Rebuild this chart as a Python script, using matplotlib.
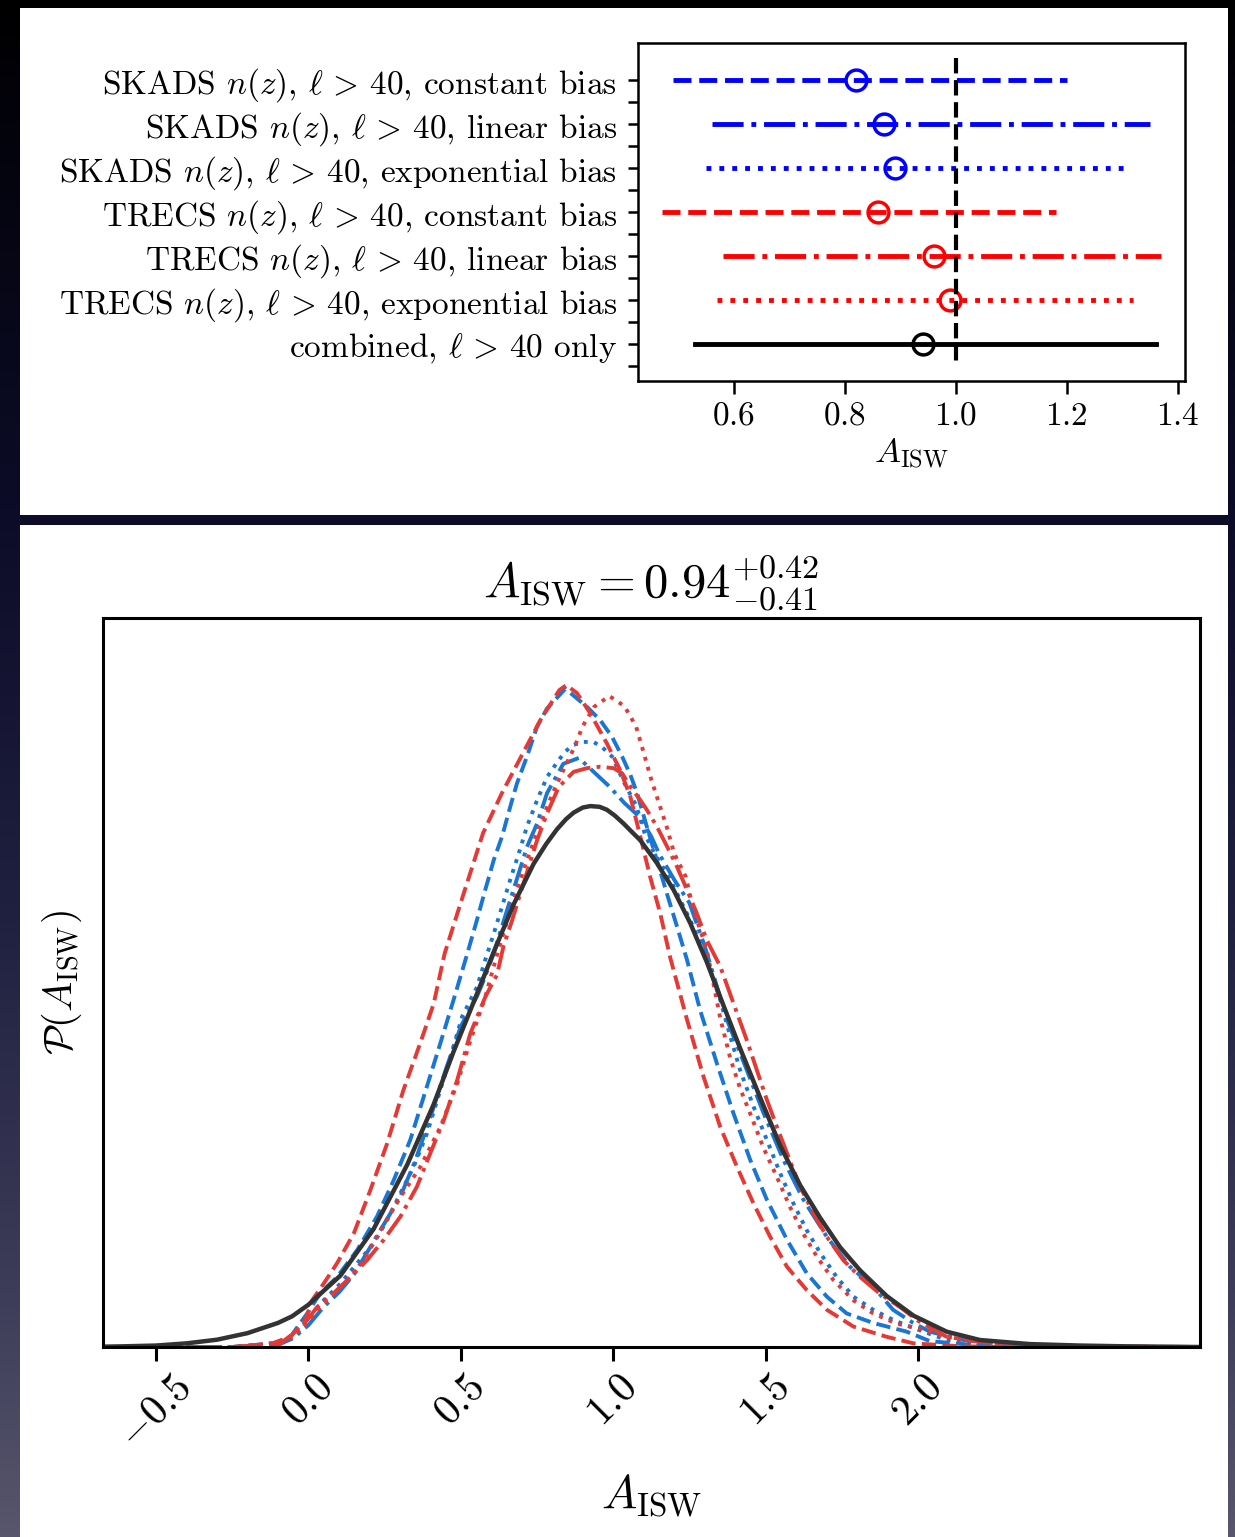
import numpy as np
import matplotlib
matplotlib.use("Agg")
import matplotlib.pyplot as plt
from matplotlib.patches import Rectangle

plt.rcParams['font.family'] = 'serif'
plt.rcParams['font.serif'] = ['cmr10']
plt.rcParams['mathtext.fontset'] = 'cm'
plt.rcParams['axes.formatter.use_mathtext'] = True
plt.rcParams['axes.unicode_minus'] = True

# ---------------- top panel data ----------------
row_labels = [
    r'SKADS $n(z)$, $\ell \,>\, 40$, constant bias',
    r'SKADS $n(z)$, $\ell \,>\, 40$, linear bias',
    r'SKADS $n(z)$, $\ell \,>\, 40$, exponential bias',
    r'TRECS $n(z)$, $\ell \,>\, 40$, constant bias',
    r'TRECS $n(z)$, $\ell \,>\, 40$, linear bias',
    r'TRECS $n(z)$, $\ell \,>\, 40$, exponential bias',
    r'combined, $\ell \,>\, 40$ only',
]
centers = [0.82, 0.87, 0.89, 0.86, 0.96, 0.99, 0.94]
lows = [0.49, 0.56, 0.55, 0.47, 0.58, 0.57, 0.53]
highs = [1.20, 1.35, 1.31, 1.18, 1.37, 1.32, 1.36]
row_colors = ['#0000ff', '#0000ff', '#0000ff', '#ff0000', '#ff0000', '#ff0000', '#000000']
row_styles = ['--', '-.', ':', '--', '-.', ':', '-']
top_xticks = [0.6, 0.8, 1.0, 1.2, 1.4]

# ---------------- bottom panel data ----------------
black_x = [-0.67, -0.6, -0.5, -0.4, -0.3, -0.2, -0.1, -0.054, 0.0, 0.105, 0.214, 0.324, 0.411,
           0.476, 0.537, 0.608, 0.673, 0.739, 0.780, 0.815, 0.845, 0.870, 0.900, 0.925, 0.955,
           0.979, 1.005, 1.034, 1.060, 1.089, 1.143, 1.198, 1.252, 1.307, 1.351, 1.416, 1.482,
           1.548, 1.613, 1.679, 1.744, 1.810, 1.897, 1.985, 2.094, 2.203, 2.367, 2.531, 2.7, 2.92]
black_y = [0.0005, 0.001, 0.002, 0.005, 0.010, 0.019, 0.033, 0.042, 0.058, 0.098, 0.162, 0.250,
           0.333, 0.405, 0.468, 0.542, 0.607, 0.663, 0.690, 0.710, 0.724, 0.733, 0.740, 0.742,
           0.741, 0.737, 0.729, 0.718, 0.707, 0.695, 0.664, 0.627, 0.582, 0.528, 0.480, 0.410,
           0.342, 0.276, 0.222, 0.177, 0.137, 0.105, 0.070, 0.043, 0.021, 0.0096, 0.004, 0.002,
           0.0008, 0.0]

sk_const_x = [-0.67, -0.25, -0.114, -0.059, -0.004, 0.039, 0.094, 0.160, 0.225, 0.280, 0.334,
              0.378, 0.433, 0.476, 0.520, 0.553, 0.580, 0.608, 0.635, 0.662, 0.684, 0.717, 0.750,
              0.783, 0.843, 0.914, 0.957, 0.996, 1.029, 1.056, 1.078, 1.110, 1.143, 1.176, 1.209,
              1.242, 1.285, 1.340, 1.394, 1.449, 1.504, 1.570, 1.635, 1.701, 1.766, 1.853, 1.963,
              2.039, 2.203, 2.4, 2.92]
sk_const_y = [0.0, 0.0, 0.005, 0.014, 0.046, 0.074, 0.096, 0.133, 0.179, 0.229, 0.284, 0.343,
              0.417, 0.476, 0.538, 0.586, 0.627, 0.668, 0.700, 0.741, 0.773, 0.810, 0.851, 0.876,
              0.903, 0.878, 0.860, 0.837, 0.810, 0.785, 0.760, 0.714, 0.668, 0.622, 0.577, 0.531,
              0.462, 0.389, 0.321, 0.257, 0.202, 0.147, 0.101, 0.069, 0.046, 0.033, 0.021, 0.008,
              0.002, 0.0, 0.0]

sk_lin_x = [-0.67, -0.25, -0.1, -0.05, 0.0, 0.05, 0.1, 0.15, 0.2, 0.25, 0.3, 0.35, 0.4, 0.45,
            0.5, 0.553, 0.575, 0.608, 0.635, 0.662, 0.690, 0.717, 0.750, 0.783, 0.836, 0.887,
            0.987, 1.037, 1.087, 1.125, 1.150, 1.200, 1.250, 1.300, 1.373, 1.438, 1.493, 1.558,
            1.624, 1.701, 1.777, 1.853, 1.918, 1.984, 2.039, 2.148, 2.311, 2.5, 2.92]
sk_lin_y = [0.0, 0.0, 0.003, 0.012, 0.030, 0.055, 0.075, 0.100, 0.135, 0.170, 0.205, 0.255,
            0.315, 0.380, 0.440, 0.481, 0.503, 0.540, 0.577, 0.613, 0.650, 0.686, 0.718, 0.760,
            0.800, 0.808, 0.769, 0.746, 0.727, 0.700, 0.677, 0.641, 0.609, 0.550, 0.449, 0.380,
            0.321, 0.257, 0.202, 0.151, 0.110, 0.083, 0.051, 0.033, 0.021, 0.0096, 0.004, 0.001,
            0.0]

sk_exp_x = [-0.67, -0.25, -0.092, -0.037, 0.007, 0.050, 0.105, 0.160, 0.214, 0.258, 0.302,
            0.345, 0.389, 0.433, 0.466, 0.504, 0.553, 0.580, 0.608, 0.635, 0.662, 0.690, 0.717,
            0.750, 0.783, 0.821, 0.843, 0.870, 0.903, 0.935, 0.963, 0.996, 1.037, 1.075, 1.105,
            1.138, 1.187, 1.220, 1.252, 1.285, 1.318, 1.351, 1.384, 1.416, 1.460, 1.504, 1.548,
            1.591, 1.635, 1.679, 1.733, 1.788, 1.853, 1.919, 1.985, 2.094, 2.203, 2.367, 2.6, 2.92]
sk_exp_y = [0.0, 0.0, 0.005, 0.019, 0.042, 0.064, 0.087, 0.115, 0.142, 0.174, 0.211, 0.247,
            0.293, 0.353, 0.398, 0.453, 0.494, 0.531, 0.567, 0.604, 0.641, 0.677, 0.714, 0.750,
            0.782, 0.805, 0.817, 0.826, 0.830, 0.830, 0.823, 0.810, 0.773, 0.743, 0.702, 0.675,
            0.641, 0.613, 0.586, 0.554, 0.517, 0.476, 0.426, 0.380, 0.330, 0.284, 0.238, 0.197,
            0.160, 0.129, 0.096, 0.069, 0.051, 0.037, 0.026, 0.0096, 0.004, 0.002, 0.0, 0.0]

tr_const_x = [-0.67, -0.25, -0.223, -0.115, -0.059, -0.010, 0.012, 0.050, 0.094, 0.149, 0.203,
              0.258, 0.312, 0.367, 0.411, 0.447, 0.510, 0.573, 0.635, 0.698, 0.761, 0.823, 0.846,
              0.881, 0.925, 0.979, 1.023, 1.056, 1.089, 1.121, 1.154, 1.187, 1.242, 1.296, 1.351,
              1.406, 1.460, 1.515, 1.570, 1.635, 1.701, 1.788, 1.897, 1.985, 2.138, 2.3, 2.92]
tr_const_y = [0.0, 0.0, 0.0004, 0.0055, 0.014, 0.037, 0.064, 0.087, 0.115, 0.156, 0.215, 0.279,
              0.353, 0.417, 0.471, 0.540, 0.623, 0.705, 0.760, 0.810, 0.860, 0.901, 0.908, 0.897,
              0.869, 0.828, 0.791, 0.755, 0.700, 0.645, 0.595, 0.534, 0.449, 0.371, 0.302, 0.247,
              0.197, 0.151, 0.110, 0.078, 0.051, 0.028, 0.014, 0.005, 0.001, 0.0, 0.0]

tr_lin_x = [-0.67, -0.25, -0.092, -0.048, -0.004, 0.029, 0.083, 0.138, 0.192, 0.247, 0.302,
            0.356, 0.400, 0.444, 0.488, 0.531, 0.580, 0.619, 0.640, 0.668, 0.695, 0.722, 0.750,
            0.783, 0.821, 0.870, 0.914, 0.957, 1.001, 1.029, 1.056, 1.089, 1.110, 1.143, 1.176,
            1.209, 1.242, 1.274, 1.307, 1.351, 1.394, 1.438, 1.471, 1.504, 1.537, 1.570, 1.613,
            1.657, 1.701, 1.755, 1.810, 1.875, 1.940, 2.0, 2.094, 2.203, 2.311, 2.5, 2.92]
tr_lin_y = [0.0, 0.0, 0.005, 0.019, 0.037, 0.055, 0.074, 0.096, 0.119, 0.147, 0.179, 0.220,
            0.266, 0.311, 0.366, 0.430, 0.480, 0.511, 0.550, 0.585, 0.622, 0.658, 0.695, 0.732,
            0.768, 0.789, 0.794, 0.796, 0.794, 0.787, 0.769, 0.750, 0.737, 0.714, 0.687, 0.659,
            0.627, 0.595, 0.558, 0.522, 0.472, 0.421, 0.380, 0.339, 0.302, 0.266, 0.220, 0.183,
            0.151, 0.119, 0.096, 0.073, 0.055, 0.036, 0.014, 0.007, 0.004, 0.001, 0.0]

tr_exp_x = [-0.67, -0.25, -0.1, -0.059, -0.015, 0.029, 0.072, 0.127, 0.181, 0.236, 0.302,
            0.367, 0.433, 0.488, 0.531, 0.580, 0.608, 0.630, 0.657, 0.684, 0.717, 0.750, 0.783,
            0.811, 0.836, 0.874, 0.899, 0.937, 0.987, 1.037, 1.075, 1.100, 1.125, 1.150, 1.175,
            1.200, 1.238, 1.263, 1.307, 1.351, 1.384, 1.416, 1.455, 1.493, 1.537, 1.580, 1.624,
            1.668, 1.722, 1.788, 1.853, 1.930, 2.007, 2.094, 2.203, 2.367, 2.6, 2.92]
tr_exp_y = [0.0, 0.0, 0.003, 0.012, 0.028, 0.051, 0.069, 0.092, 0.119, 0.160, 0.206, 0.247,
            0.302, 0.361, 0.420, 0.480, 0.522, 0.554, 0.591, 0.627, 0.668, 0.705, 0.741, 0.769,
            0.791, 0.824, 0.851, 0.878, 0.893, 0.879, 0.851, 0.815, 0.778, 0.746, 0.714, 0.677,
            0.645, 0.600, 0.545, 0.451, 0.396, 0.355, 0.314, 0.273, 0.233, 0.192, 0.155, 0.124,
            0.092, 0.064, 0.046, 0.032, 0.025, 0.014, 0.007, 0.003, 0.0, 0.0]

curves = [
    (sk_const_x, sk_const_y, '#1976d2', '--'),
    (sk_lin_x, sk_lin_y, '#1976d2', '-.'),
    (sk_exp_x, sk_exp_y, '#1976d2', ':'),
    (tr_const_x, tr_const_y, '#e53935', '--'),
    (tr_lin_x, tr_lin_y, '#e53935', '-.'),
    (tr_exp_x, tr_exp_y, '#e53935', ':'),
]
bottom_xticks = [-0.5, 0.0, 0.5, 1.0, 1.5, 2.0]

W, H = 1235, 1537
fig = plt.figure(figsize=(W / 100, H / 100), dpi=100)

# background gradient
stops_pos = [0.0, 0.05, 0.33, 0.6, 0.85, 1.0]
stops_rgb = np.array([[0, 0, 0], [2, 2, 8], [12, 12, 40], [32, 32, 64], [62, 62, 90], [88, 86, 108]]) / 255.0
yy = np.linspace(0, 1, 400)
grad = np.stack([np.interp(yy, stops_pos, stops_rgb[:, k]) for k in range(3)], axis=1)
ax_bg = fig.add_axes([0, 0, 1, 1], zorder=-5)
ax_bg.imshow(grad[:, None, :], aspect='auto', extent=[0, 1, 0, 1], origin='upper')
ax_bg.set_axis_off()

def fig_rect(x0, y0, x1, y1):
    return Rectangle((x0 / W, 1 - y1 / H), (x1 - x0) / W, (y1 - y0) / H,
                     transform=fig.transFigure, facecolor='white', edgecolor='none', zorder=-4)

fig.add_artist(fig_rect(20, 8, 1228, 515))
fig.add_artist(fig_rect(20, 525, 1228, 1537))

# ---------------- top axes ----------------
def axes_px(l, t, r, b):
    return [l / W, 1 - b / H, (r - l) / W, (b - t) / H]

ax1 = fig.add_axes(axes_px(638, 43, 1185, 381))
ax1.set_facecolor('white')
for i in range(len(row_labels)):
    ax1.plot([lows[i], highs[i]], [i, i], linestyle=row_styles[i], color=row_colors[i], lw=3.5)
    ax1.plot([centers[i]], [i], 'o', mfc='none', mec=row_colors[i], ms=15, mew=2.5)
ax1.plot([1.0, 1.0], [-0.5, len(row_labels) - 0.5], 'k--', lw=3)
ax1.set_xlim(0.427, 1.413)
ax1.set_ylim(len(row_labels) - 0.16, -0.84)
ax1.set_xticks(top_xticks)
ax1.set_xticklabels([f'${v:.1f}$' for v in top_xticks])
yt = np.arange(0, len(row_labels), 0.5)
ax1.set_yticks(yt)
ax1.set_yticklabels([row_labels[int(v)] if v == int(v) else '' for v in yt])
ax1.tick_params(axis='both', direction='out', length=7, width=1.8, labelsize=24)
ax1.tick_params(axis='x', length=9, pad=6)
ax1.tick_params(axis='y', pad=8)
for s in ax1.spines.values():
    s.set_linewidth(1.8)
ax1.set_xlabel(r'$A_{\rm ISW}$', fontsize=25, labelpad=4)

# ---------------- bottom axes ----------------
ax2 = fig.add_axes(axes_px(103, 618, 1200, 1347))
ax2.set_facecolor('white')
for cx, cy, col, ls in curves:
    ax2.plot(cx, cy, color=col, linestyle=ls, lw=2.8)
ax2.plot(black_x, black_y, color='#333333', lw=3.2)
ax2.set_xlim(-0.674, 2.925)
ax2.set_ylim(0, 1.0)
ax2.set_yticks([])
ax2.set_xticks(bottom_xticks)
ax2.set_xticklabels([f'${v:.1f}$' for v in bottom_xticks])
plt.setp(ax2.get_xticklabels(), rotation=45)
ax2.tick_params(axis='x', direction='out', length=10, width=2.2, labelsize=30, pad=6)
for s in ax2.spines.values():
    s.set_linewidth(2.2)
ax2.set_xlabel(r'$A_{\rm ISW}$', fontsize=34, labelpad=12)
ax2.set_ylabel(r'$\mathcal{P}(A_{\rm ISW})$', fontsize=29, labelpad=14)
ax2.set_title(r'$A_{\rm ISW} = 0.94^{+0.42}_{-0.41}$', fontsize=35, pad=15)

fig.savefig('out.png', dpi=100)
